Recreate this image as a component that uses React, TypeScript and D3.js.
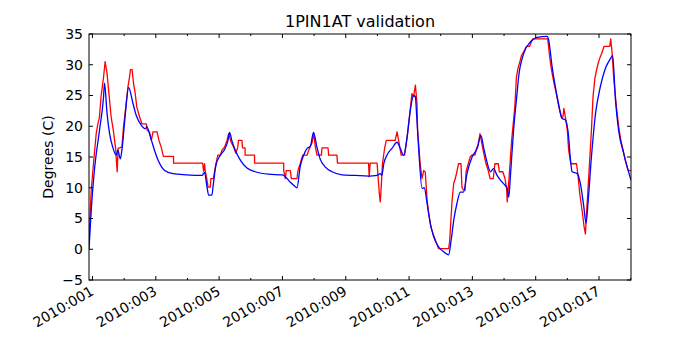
import React from "react";
import * as d3 from "d3";

// day-of-year (fractional) and temperature
const modelDays = [
  0.89, 0.96, 1.06, 1.22, 1.35, 1.38, 1.46, 1.54, 1.64, 1.75, 1.8, 1.88, 1.94, 2.04, 2.14, 2.28, 2.38, 2.54,
  2.67, 2.72, 2.8, 2.91, 3.07, 3.28, 3.54, 3.96, 4.46, 4.54, 4.61, 4.67, 4.77, 4.82, 4.9, 5.04, 5.19, 5.28,
  5.33, 5.4, 5.51, 5.67, 5.88, 6.14, 6.56, 7.0, 7.09, 7.25, 7.4, 7.46, 7.56, 7.67, 7.78, 7.88, 7.98, 8.09,
  8.19, 8.35, 8.57, 8.88, 9.3, 9.72, 9.99, 10.09, 10.14, 10.2, 10.3, 10.46, 10.62, 10.72, 10.83, 10.94, 11.04,
  11.14, 11.2, 11.23, 11.3, 11.41, 11.48, 11.57, 11.67, 11.78, 11.93, 12.09, 12.25, 12.33, 12.41, 12.51,
  12.62, 12.72, 12.83, 12.99, 13.15, 13.27, 13.36, 13.46, 13.57, 13.67, 13.78, 13.94, 14.1, 14.15, 14.2,
  14.3, 14.41, 14.46, 14.62, 14.83, 15.09, 15.36, 15.41, 15.52, 15.62, 15.72, 15.83, 15.94, 16.04, 16.09,
  16.15, 16.31, 16.41, 16.52, 16.59, 16.65, 16.76, 16.89, 17.04, 17.2, 17.36, 17.43, 17.52, 17.62, 17.78,
  18.01,
];
const modelTemps = [
  0.0, 6.3, 12.8, 19.3, 24.8, 27.0, 22.1, 18.8, 16.6, 15.3, 16.1, 14.7, 16.6, 22.1, 26.3, 23.7, 21.8, 20.2,
  19.6, 19.9, 18.8, 16.9, 14.5, 12.8, 12.3, 12.1, 12.0, 12.5, 10.4, 8.8, 8.8, 10.7, 13.7, 15.3, 16.4, 17.7,
  19.0, 17.7, 16.1, 14.5, 13.2, 12.6, 12.2, 12.1, 11.8, 10.9, 10.2, 10.0, 13.4, 15.3, 16.4, 16.7, 19.0, 16.6,
  14.7, 13.4, 12.6, 12.1, 12.0, 11.9, 12.0, 12.3, 12.0, 13.9, 15.3, 16.4, 17.4, 16.4, 15.3, 18.3, 22.6,
  25.0, 24.8, 22.6, 16.6, 9.9, 10.0, 7.4, 4.2, 2.0, 0.4, -0.4, -0.9, 1.5, 4.7, 7.4,
  9.3, 9.3, 12.3, 15.0, 16.4, 18.5, 16.4, 14.2, 12.6, 13.1, 12.0, 10.9, 9.9, 8.5, 11.8,
  19.3, 25.3, 28.0, 31.8, 33.7, 34.5, 34.6, 34.0, 29.6, 26.4, 23.7, 21.3, 21.0, 18.3, 15.0,
  12.6, 12.3, 10.7, 6.9, 4.2, 7.4, 15.0, 22.1, 26.4, 29.4, 31.0, 31.5, 24.2, 19.3, 15.6,
  11.2,
];

const obsDays = [
  0.89, 0.96, 1.06, 1.12, 1.17, 1.22, 1.27, 1.35, 1.4, 1.46, 1.52, 1.59, 1.66, 1.73, 1.78, 1.81, 1.93, 1.98,
  2.04, 2.12, 2.17, 2.2, 2.25, 2.3, 2.35, 2.4, 2.49, 2.56, 2.7, 2.73, 2.8, 2.86, 2.91, 3.04, 3.1, 3.17, 3.24,
  3.56, 3.56, 4.48, 4.51, 4.54, 4.56, 4.61, 4.65, 4.72, 4.74, 4.82, 4.86, 4.9, 4.96, 5.04, 5.09, 5.17, 5.25, 5.3,
  5.38, 5.46, 5.53, 5.59, 5.61, 5.72, 5.74, 5.82, 5.82, 6.12, 6.12, 7.04, 7.04, 7.09, 7.12, 7.25, 7.28, 7.46,
  7.49, 7.56, 7.64, 7.78, 7.83, 7.94, 7.99, 8.04, 8.09, 8.23, 8.25, 8.44, 8.46, 8.72, 8.74, 9.72, 9.74, 9.77,
  9.99, 10.02, 10.06, 10.09, 10.12, 10.16, 10.23, 10.28, 10.56, 10.62, 10.67, 10.75, 10.86, 10.94, 11.01, 11.09,
  11.14, 11.2, 11.25, 11.27, 11.35, 11.41, 11.46, 11.51, 11.57, 11.62, 11.69, 11.76, 11.83, 11.93, 12.25, 12.28,
  12.36, 12.41, 12.46, 12.51, 12.56, 12.64, 12.67, 12.72, 12.77, 12.8, 12.87, 12.93, 12.98, 13.08, 13.13,
  13.18, 13.24, 13.29, 13.36, 13.43, 13.5, 13.56, 13.66, 13.71, 13.82, 13.85, 13.96, 14.03, 14.08, 14.1,
  14.16, 14.24, 14.34, 14.39, 14.44, 14.5, 14.55, 14.65, 14.71, 14.81, 14.86, 14.91, 15.38, 15.44, 15.49,
  15.57, 15.65, 15.72, 15.81, 15.86, 15.89, 15.94, 16.0, 16.04, 16.11, 16.29, 16.34, 16.39, 16.47, 16.53,
  16.57, 16.6, 16.68, 16.76, 16.81, 16.87, 16.92, 16.97, 17.02, 17.08, 17.16, 17.34, 17.37, 17.41, 17.47,
  17.55, 17.63, 17.69, 17.76, 17.84, 17.92, 18.01,
];
const obsTemps = [
  1.2, 9.6, 15.6, 18.9, 20.4, 21.5, 24.8, 28.0, 30.5, 28.6, 25.3, 21.5, 19.3, 16.4, 12.6, 16.4, 16.6, 19.9,
  22.6, 26.4, 28.0, 29.2, 29.2, 26.9, 25.3, 23.1, 21.5, 20.4, 20.4, 19.3, 19.1, 17.7, 19.1, 19.1, 17.7, 16.6, 15.1,
  15.1, 14.0, 14.0, 12.7, 13.9, 12.8, 11.5, 10.1, 10.1, 11.5, 11.5, 12.8, 13.9, 15.3, 15.3, 16.1, 16.6, 17.7, 18.8,
  17.4, 16.6, 15.6, 16.6, 17.7, 17.7, 16.5, 16.5, 15.3, 15.3, 14.0, 14.0, 12.8, 11.5, 12.8, 12.8, 11.5, 11.5,
  12.8, 13.9, 15.3, 15.3, 16.1, 17.4, 18.8, 16.6, 15.3, 15.3, 16.5, 16.5, 15.3, 15.3, 14.0, 14.0, 11.8, 14.0,
  14.0, 11.8, 9.1, 7.7, 10.1, 13.9, 16.5, 17.7, 17.7, 19.1, 17.7, 15.3, 15.3, 18.3, 21.5, 25.3,
  24.8, 26.7, 23.7, 19.3, 13.9, 11.5, 12.8, 12.6, 8.0, 5.8, 3.6, 2.5, 1.5, 0.1, 0.1, 1.2,
  8.0, 10.7, 11.5, 12.6, 13.9, 13.9, 10.1, 9.6, 9.6, 12.6, 13.9, 15.0, 15.3, 15.3, 16.4,
  16.9, 18.8, 17.4, 15.6, 13.9, 12.8, 11.5, 11.5, 13.9, 13.9, 12.6, 12.6, 11.5, 9.9, 7.7,
  11.8, 17.7, 23.1, 28.0, 29.4, 30.5, 31.5, 32.4, 33.0, 33.0, 33.7, 34.2, 34.2, 31.3, 29.4,
  27.2, 25.3, 23.4, 21.5, 21.5, 22.9, 21.4, 19.3, 16.1, 13.9, 13.9, 11.8, 9.1, 6.1, 3.6,
  2.5, 5.3, 12.3, 19.3, 24.8, 27.8, 29.1, 30.2, 31.0, 31.8, 33.0, 33.0, 34.2, 32.1, 27.5,
  23.1, 19.6, 17.7, 16.1, 14.2, 12.8, 12.8,
];

const xTickDays = [1, 3, 5, 7, 9, 11, 13, 15, 17];
const xTickLabels = ["2010:001", "2010:003", "2010:005", "2010:007", "2010:009", "2010:011", "2010:013", "2010:015", "2010:017"];
const xMinorDays = [2, 4, 6, 8, 10, 12, 14, 16, 18];
const yTicks = [-5, 0, 5, 10, 15, 20, 25, 30, 35];

const W = 700;
const H = 350;
const left = 89;
const right = 631;
const top = 34;
const bottom = 280;
const font = "DejaVu Sans, sans-serif";

export default function App() {
  const x = d3.scaleLinear().domain([0.89, 18.01]).range([left, right]);
  const y = d3.scaleLinear().domain([-5, 35]).range([bottom, top]);

  const modelLine = d3
    .line<number>()
    .x((d, i) => x(modelDays[i]))
    .y((d) => y(d))
    .curve(d3.curveMonotoneX);

  const obsLine = d3
    .line<number>()
    .x((d, i) => x(obsDays[i]))
    .y((d) => y(d));

  return (
    <svg width={W} height={H} style={{ position: "absolute", left: 0, top: 0, background: "#fff" }} fontFamily={font}>
      <rect x={0} y={0} width={W} height={H} fill="#fff" />
      <defs>
        <clipPath id="plot">
          <rect x={left} y={top} width={right - left} height={bottom - top} />
        </clipPath>
      </defs>

      <g clipPath="url(#plot)" fill="none" strokeLinejoin="round">
        <path d={obsLine(obsTemps) || ""} stroke="#ff0000" strokeWidth={1.3} />
        <path d={modelLine(modelTemps) || ""} stroke="#0000ff" strokeWidth={1.3} />
      </g>

      {/* frame */}
      <rect x={left} y={top} width={right - left} height={bottom - top} fill="none" stroke="#000" strokeWidth={1} />

      {/* x ticks, inward, top and bottom */}
      {xTickDays.map((d) => (
        <g key={"xt" + d}>
          <line x1={x(d)} x2={x(d)} y1={bottom} y2={bottom - 4} stroke="#000" />
          <line x1={x(d)} x2={x(d)} y1={top} y2={top + 4} stroke="#000" />
        </g>
      ))}
      {xMinorDays.map((d) => (
        <g key={"xm" + d}>
          <line x1={x(d)} x2={x(d)} y1={bottom} y2={bottom - 2} stroke="#000" />
          <line x1={x(d)} x2={x(d)} y1={top} y2={top + 2} stroke="#000" />
        </g>
      ))}
      {xTickDays.map((d, i) => (
        <text
          key={"xl" + d}
          transform={`translate(${x(d) - 3},${bottom + 5}) rotate(-30)`}
          textAnchor="end"
          dy="0.75em"
          fontSize={14}
          fill="#000"
        >
          {xTickLabels[i]}
        </text>
      ))}

      {/* y ticks, inward, left and right */}
      {yTicks.map((t) => (
        <g key={"yt" + t}>
          <line x1={left} x2={left + 4} y1={y(t)} y2={y(t)} stroke="#000" />
          <line x1={right} x2={right - 4} y1={y(t)} y2={y(t)} stroke="#000" />
          <text x={left - 6} y={y(t)} dy="0.35em" textAnchor="end" fontSize={14} fill="#000">
            {t < 0 ? "\u2212" + Math.abs(t) : t}
          </text>
        </g>
      ))}

      <text x={(left + right) / 2} y={top - 7} textAnchor="middle" fontSize={16} fill="#000">
        1PIN1AT validation
      </text>
      <text transform={`translate(53,${(top + bottom) / 2}) rotate(-90)`} textAnchor="middle" fontSize={14} fill="#000">
        Degrees (C)
      </text>
    </svg>
  );
}
